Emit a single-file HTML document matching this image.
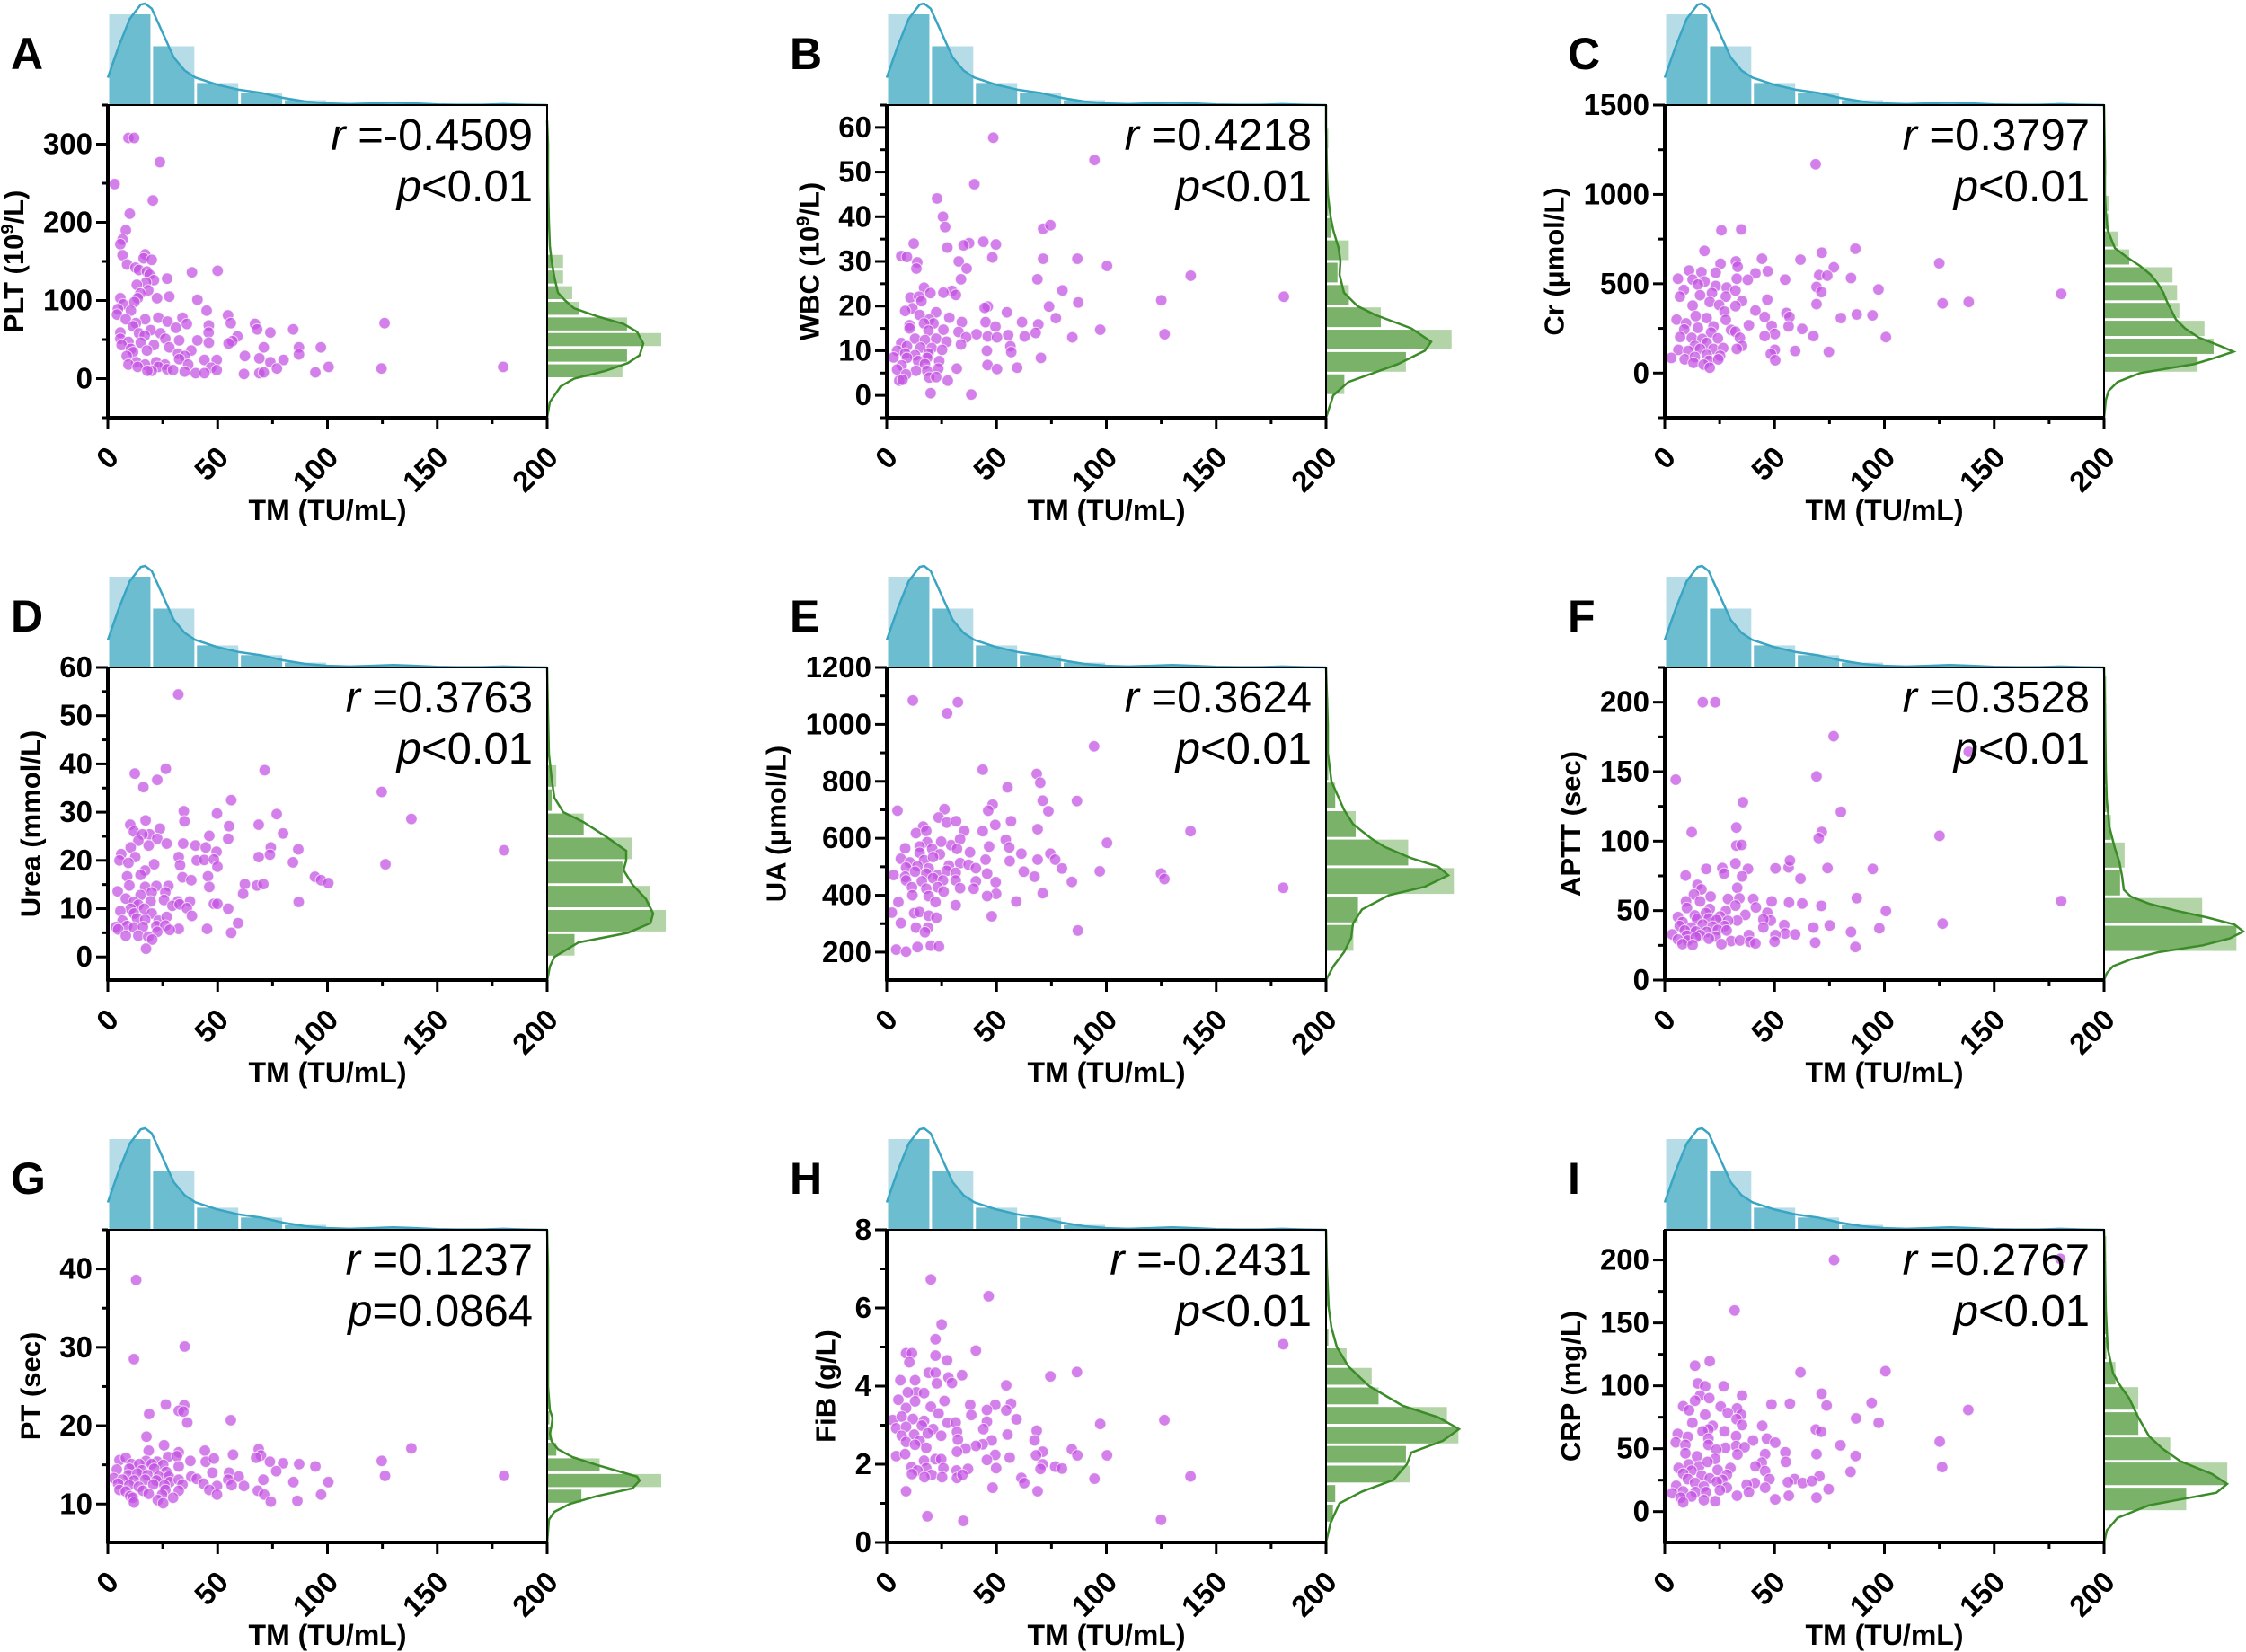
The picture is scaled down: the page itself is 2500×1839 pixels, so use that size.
<!DOCTYPE html>
<html><head><meta charset="utf-8"><title>TM correlation panels</title>
<style>html,body{margin:0;padding:0;background:#fff}svg{display:block}
text{font-family:"Liberation Sans Narrow","Liberation Sans",sans-serif}</style></head>
<body>
<svg id="fig" width="2500" height="1839" viewBox="0 0 2500 1839" xmlns="http://www.w3.org/2000/svg"></svg>
<script>
// ---------- data ----------
const panelLetters=["A","B","C","D","E","F","G","H","I"];
const yLabels=["PLT (10|9|/L)","WBC (10|9|/L)","Cr (μmol/L)","Urea (mmol/L)","UA (μmol/L)","APTT (sec)","PT (sec)","FiB (g/L)","CRP (mg/L)"];
const rTexts=["=-0.4509","=0.4218","=0.3797","=0.3763","=0.3624","=0.3528","=0.1237","=-0.2431","=0.2767"];
const pTexts=["<0.01","<0.01","<0.01","<0.01","<0.01","<0.01","=0.0864","<0.01","<0.01"];
const yMins=[-50,-5,-250,-4.8,102,0,5.1,0,-24.5];
const yMaxs=[350,65,1500,60,1200,225,45,8,224];
const yTickStart=[0,0,0,0,200,0,10,0,0];
const yTickStep=[100,10,500,10,200,50,10,2,50];
const yTickEnd=[300,60,1500,60,1200,200,40,8,200];
const xTicks=[0,50,100,150,200];
// top (TM) histogram, bins of 20 from 0
const topCounts=[74,48,18,10,4,1,1,0,1,0];
const topKdeX=[0,5,10,15,17,20,25,30,35,40,50,60,70,80,90,100,110,120,130,140,150,160,170,180,190,200];
const topKdeD=[0.27,0.58,0.85,0.99,1,0.95,0.71,0.47,0.34,0.27,0.2,0.15,0.12,0.07,0.035,0.017,0.01,0.017,0.024,0.017,0.007,0.003,0.003,0.01,0.003,0];
// right histograms
const rhStart=[0,0,0,0,200,20,10,0.5,0];
const rhBin=[20,5,100,5,100,20,2,0.5,20];
const rhCounts=[
 [33,35,50,35,14,11,7,7],
 [8,35,55,24,10,5,10,2,1,1,0,1],
 [41,48,44,33,32,30,11,6,2,2,0,1],
 [12,52,45,33,37,16,2,4],
 [12,14,56,36,13,4,1,0,1],
 [58,43,7,9,3,1,1,1,1,1],
 [15,50,23,4,2,1,1],
 [3,4,37,35,58,53,23,20,9,1,0,1,1],
 [36,54,29,15,15,5,1,1,1,1,1]];
const rkY=[
 [-50,-30,-10,0,10,20,30,45,60,70,80,90,100,110,130,150,170,200,250,300,330],
 [-5,0,3,7,10,12,15,18,20,23,27,30,33,37,40,45,50,60,65],
 [-250,-150,-100,-50,0,50,80,120,150,200,250,300,400,450,500,550,600,650,700,800,900,1000,1200,1500],
 [-5,-2,0,3,5,7,9,12,15,18,20,22,25,28,30,33,37,42,50,60],
 [102,150,200,250,300,350,400,430,470,500,530,570,600,650,700,800,900,1000,1100,1200],
 [0,5,10,15,20,25,30,35,40,45,50,55,60,65,75,85,95,110,130,150,200,225],
 [5,8,9,10,11,12,13,13.5,14,15,16,17,18,19,20,21,22,25,30,40,45],
 [0,0.5,1,1.3,1.6,2,2.3,2.6,2.9,3.2,3.5,4,4.5,5,5.5,6,7,8],
 [-25,-15,-5,5,15,22,30,40,50,60,75,90,100,110,130,160,200,224]];
const rkD=[
 [0,3,15,30,65,90,103,107,100,85,55,30,20,12,8,5,3,2,1,1,0],
 [0,8,25,80,110,117,95,55,35,20,15,16,14,8,5,2,1,0,0],
 [0,2,5,15,40,100,120,144,130,105,90,80,70,66,60,52,40,25,12,4,2,1,1,0],
 [0,3,8,35,90,115,118,110,95,85,88,88,65,40,18,8,5,2,1,0],
 [0,8,20,28,30,40,70,110,136,125,95,65,50,30,20,6,2,2,1,0],
 [0,3,10,30,60,110,140,155,145,115,80,50,30,22,20,17,12,6,3,2,1,0],
 [0,2,8,25,55,95,103,100,85,55,28,12,5,3,5,6,3,1,1,1,0],
 [0,5,15,40,75,90,95,130,148,125,85,48,25,12,6,3,1,0],
 [0,3,15,50,125,137,120,85,65,50,38,28,18,10,4,2,1,0]];
// scatter points: [TM, value, TM, value, ...]
const ptsA=[9.4,308,12,308,23.7,277,3.1,249,20.5,228,10,211,8.2,190,6.7,178,5.7,172,6.7,158,8.8,146,17,159,16.3,154,20,152,12.6,142,14.2,139,17.8,137,19,133,38.3,136,50,138,27,128,21,126,17.4,123,13.2,120,18.4,113,14.8,109,13.6,103,22.4,103,28,105,5.7,103,7,95,12.1,98,40.8,101,4.6,89,10.5,87,45,87,54.7,81,34,78,4.2,82,8.2,76,17,76,23,78,27.2,73,12.8,71,56,71,36,70,67,70,126,71,46,68,11.5,67,19.5,62,31,65,68,63,84.4,63,74,59,5.7,59,14.2,58,24,58,45.9,59,16.8,55,59,54,26.2,51,32.5,49,5.7,51,9.4,47,15,46,40.8,49,56.7,48,46,46,55,45,21,43,28,40,6.3,43,87,40,97,40,71,40,10.5,38,17.8,36,38,36,32,32,87,31,11.5,34,62.4,29,35,29,8.6,29,69,26,32.5,25,44,24,49.6,24,80,24,74,21,13,21,22,21,9.4,18,17,18,26,18,36.6,18,23,15,13.6,15,47,14,100.5,15,77,13,124.6,13,180,15,27,12,49.6,11,20,10,35,9,40,7,44,7,62,6,69,7,71,8,94.5,8,18,10,29.7,11];
const ptsB=[48.5,57.7,94.6,52.7,39.9,47.3,22.9,44.1,25.6,40,26.6,37.7,71.2,37.3,74.5,38.1,44,34.4,49.7,33.8,12.3,34,37.5,34.1,35,33.6,27.6,33.1,6.6,31.2,9.2,31,13.9,29.8,13.5,28.4,32.8,30,36.4,28.4,48.1,30.9,71.2,30.6,86.8,30.6,100.3,29,138.4,26.8,33.8,26,68.6,26,17,24.1,19.9,22.9,29.7,23.4,25.8,23,31.5,22.5,10.8,21.9,14.7,22.1,15.8,21.1,80,23.5,87.2,20.8,125,21.3,180.8,22.1,11.7,19.5,8.4,18.9,15,18,22.5,18.6,46,19.9,44.6,19.6,54.7,18.6,73.9,19.9,28.5,17.4,19.4,17,21.3,16.1,10.4,15.7,17,16.1,34.2,16.4,45,16.4,61.6,16.4,69,15.9,77,17.3,49.5,15.4,10.4,15,19,14.5,25.8,14.7,32.7,14.2,67.8,14,97.2,14.7,126.5,13.7,40.9,13.7,55.3,13.5,36.2,13,46,13.2,62.8,13.2,84.5,13,12.9,12.7,17.4,12.4,22.5,12.7,27.2,12,50.2,13,33.8,11.4,6.6,11.7,9.2,11,15.4,10.7,20.5,10.6,25.2,10.2,56.3,11,4.7,10,8.4,9.4,12.9,9,19,9.4,45.6,10,56.7,9.7,3.1,8.5,9.2,8.4,18.4,8.4,70.2,8.4,14.3,7.7,17.4,7,6.8,6.7,23.9,7.7,45.9,6.8,4.7,5.8,13.3,5.5,18.4,5.5,23.5,6,31.9,6,50.2,5.9,59.4,6.2,8.8,4.7,19.4,4,22.5,4.1,5.7,3.3,7.2,3.5,27.8,3.3,20,0.5,38.5,0.2];
const ptsC=[68.7,1169,25.8,799,34.8,804,18.1,684,71.5,674,86.8,696,44.3,640,61.8,635,125,615,32.4,625,25.4,612,33.2,595,77,592,11.1,574,16.7,565,23.2,562,46.9,570,41.3,558,70.3,548,74,545,54.8,523,84.8,532,6,528,12.7,523,18.1,512,32.8,528,37.8,522,15.1,495,23.2,487,28.2,478,69.1,482,97.3,468,8.7,465,32.2,462,71.3,453,180.5,443,6.9,428,16.1,436,21.5,448,27.8,428,35.2,403,46.7,411,126.5,390,138.4,398,69.1,386,20.5,398,12.7,378,24.8,381,32.2,375,41.3,350,27.2,344,55.4,336,56.8,314,87.4,328,94.6,323,45.5,314,5.4,299,14.1,319,19.1,308,27.8,298,80.2,308,9.7,278,38.3,268,48.7,264,56.4,261,22.2,261,15.1,253,8.9,244,30.2,241,62.6,247,32.2,231,21.1,227,50.1,219,67.7,207,100.7,201,7,202,12.3,197,17.1,191,24.2,194,34.2,197,45.5,207,19.1,169,13.7,152,35.2,152,6.2,130,10.7,124,16.1,135,22.2,135,26.6,140,32.8,135,50.1,130,59.4,124,74.7,119,3,85,9.1,77,13.7,90,19.1,102,25.2,97,48.3,107,13.1,57,20.1,69,24.4,77,50.3,72,17.7,47,20.5,30];
const ptsD=[32.1,54.4,71.4,38.7,26.4,39,12.3,38,22.5,36.7,16.2,35.2,124.7,34.2,56.2,32.5,34.6,30.2,49.7,29.7,76.9,29.6,34.9,28.1,138.2,28.6,17.2,28.3,10.2,27.4,68.7,27.4,55.2,27.1,23.7,26.6,11.9,26,19,25.4,15.8,25.4,46.2,25.1,79.8,25.6,54.8,24.5,22.5,24.5,13.9,24.1,26.8,23.5,34.3,23.5,39.9,23.1,10.4,22.7,18.6,23.1,44.6,22.7,86.7,22.3,180.4,22.1,49.5,21.8,74.2,22.7,6.1,21.3,12.5,20.7,40.5,20,43.9,20.1,48.3,20.2,32.3,20.7,68.7,20.7,73.8,21.2,84.3,19.6,5.3,20,9.4,19.5,21.1,19.2,126.4,19.2,49.9,18.7,32.9,19,17,17.9,14.9,17,34,16.5,8.8,16.7,45.6,16.7,94.3,16.6,97.1,15.9,100.4,15.3,62.4,15.1,67.9,14.8,70.8,15.1,9.8,14.8,17,14.5,22.1,14.7,27.6,14.7,38,15.9,46.2,14.5,4.5,13.6,20,13.4,26.2,13.4,8.2,12.1,14.9,12.8,61.6,13.1,11.9,11.4,19.5,11.5,25.6,11.8,31.9,11.5,37.4,11.5,48.3,11,49.9,11,86.9,11.4,13.9,10.8,29.4,10.6,32.7,10.9,10.4,10,16.6,10,36,10.1,54.8,10,5.7,9.5,11.9,9,20,9,38.3,8.5,13.3,8,17,7.7,23.1,7.5,26.8,8.3,6.7,7.5,59.3,7,3.7,6.2,8.8,6.4,11.9,6.1,16,6.2,22.1,6.4,26.2,6.5,32.3,5.8,45.2,5.8,28.2,5.6,4.7,5.7,22.5,5.2,56.2,5,8.2,4.4,13.9,4.4,18.4,4.2,20.2,3.6,17.4,1.7];
const ptsE=[11.9,1084,32.4,1078,27.5,1039,94.4,923,43.7,841,68.3,826,69.9,795,55,779,86.6,731,71,732,48.2,718,4.9,697,26.3,702,46.2,697,73.6,695,23.6,673,27.3,655,31.6,660,56.6,660,49.4,647,35.3,626,43.7,625,68.7,632,138.3,625,16.6,641,13.3,618,18,626,29.3,576,18.4,586,24.8,588,33.4,597,54.2,595,100.3,584,8.4,565,15,571,20.7,563,46.6,571,55.8,568,32,563,37.9,551,61.3,546,74.5,546,24.2,544,15,549,6.4,528,10.5,515,17,523,21.1,534,45,525,56,520,68.7,525,76.7,525,33.4,513,28.3,504,37.3,507,8.8,497,14,502,19.1,494,40.6,495,79.8,494,3.1,471,8.4,465,12.9,483,18,476,23.2,471,27.3,486,31.4,479,62.4,483,97,484,45.7,476,124.9,476,126.4,457,8.8,452,16,449,21.1,460,25.6,452,31.4,452,67.3,465,49.6,446,40.6,449,84.3,447,11.5,428,18,423,23.2,428,33.4,425,39.6,423,25.9,413,180.5,426,71,407,49.8,405,11.7,400,19.1,397,45.7,397,5.3,376,22.2,376,59,378,31.4,365,2.3,339,12.5,337,14.9,341,19.1,328,22.6,321,47.8,326,6.4,302,13.3,286,18.8,286,17.4,270,87,276,4.3,209,8.8,202,14,218,20.1,223,23.8,220];
const ptsF=[17.3,200,23,200,76.9,175.5,138.4,164.3,5,144.2,69.1,146.6,35.6,128,80.2,121,32.6,109.8,12.3,106.4,71.5,106.6,70.1,102.2,125.1,103.8,32.6,96.8,35,97.3,9.5,75.2,18.9,80,26.2,80.6,27,76.7,32.2,83.9,37.9,80,50.4,80.4,56.4,81.1,57,86,74.1,80.6,94.7,80,61.8,73,35.2,74.6,14.9,68.5,16.7,65.3,33,66.4,13.3,61.6,20.9,60.1,28.8,58.4,34,58.8,40.3,58.4,48.7,56.6,56.6,55.8,62.6,55.1,87.4,59,9.7,56.6,16.1,56.6,71.3,53.4,32.2,53.6,41.5,52.3,180.5,56.9,10.1,51.9,20.5,51.2,27.8,49.7,46.7,48.4,100.7,49.7,6,45.4,13.7,46.5,18.7,48.2,25.2,45.8,36.7,46.9,48.3,42.8,44.9,43.7,33,42.8,8.1,41.7,14.7,43.7,20.1,44.3,23.6,43.2,28.8,42.6,126.5,40.6,6.8,38.9,12.1,37.8,17.3,40,21.8,38.5,27.2,38.9,44.9,37.8,54.4,39.6,67.7,37.8,75.1,39.3,97.7,37.2,9.1,35.7,14.1,35,19.1,34.6,24.2,36.1,28.2,35.7,54.8,33.5,59.4,32.9,84.8,34.6,3.4,32.9,10.1,32,16.1,32.4,23.2,31.3,38.3,32.4,50.4,32.4,6,29.2,10.5,28.5,14.1,30.7,20.1,29.8,30.2,28.1,34.2,28.5,38.9,27.5,50,27.7,68.5,27,8.1,25.9,12.7,25.3,25.8,25.9,41.3,26.4,86.8,23.8];
const ptsG=[12.9,38.6,35,30.1,11.9,28.5,26.4,22.7,34.8,22.6,32.3,21.9,34.4,21.8,18.8,21.5,36.2,20.4,56,20.7,17.6,18.6,138.2,17.1,25.6,17.5,68.7,17,18.6,16.8,44.2,16.8,32.3,16.6,57,16.3,69.7,16.2,5.3,15.6,8.2,15.9,17.4,15.5,22.5,15.4,27.4,16,31.5,16.1,37.6,15.5,44.6,15.4,48.3,15.8,67.5,15.9,124.7,15.5,73.8,15.4,79.8,15.2,87.1,15.1,94.5,14.8,10.8,15.1,14.3,15.1,20,15.1,25.2,15,32.3,14.8,4.1,14.4,9.8,14.5,15.5,14.3,21.1,14.5,26.6,14.1,76.7,14.2,47.6,14,55.2,14,9.4,13.7,13.5,13.9,18,13.7,23.1,13.5,27.8,13.5,38,13.5,126.2,13.6,180.4,13.6,59.6,13.5,2.7,13.3,6.7,13.1,11.9,13,17,13.1,22.1,13,28.2,12.8,32.3,13.1,40.5,13.2,54.8,13.1,70.8,13.1,100.4,12.8,84.5,12.8,4.7,12.6,9.8,12.4,14.1,12.2,20.7,12.5,25.8,12.4,34,12.5,43.6,12.6,49.7,12.3,56.4,12.4,62,12.3,5.3,11.8,8.2,11.6,16,11.7,26.2,11.8,32.3,11.7,46.2,11.8,68.3,11.7,18.6,11.3,10.2,11,24.7,11.2,49.7,11.2,71.2,11.2,97.1,11.2,11.4,10.8,29.7,10.8,22.7,10.5,11.9,10.2,25.2,10.1,74.2,10.3,86.3,10.4];
const ptsH=[20.1,6.73,46.4,6.3,25,5.58,22.2,5.2,180.5,5.07,40.6,4.91,8.8,4.84,11.5,4.84,22.2,4.78,10.3,4.61,27.5,4.66,19.1,4.34,22.2,4.34,86.6,4.36,74.5,4.25,34.3,4.28,28.1,4.22,22.8,4.07,29.7,4.08,6.2,4.15,12.9,4.15,54.4,4.02,13.5,3.84,9.6,3.84,17,3.82,5.3,3.65,12.9,3.61,26.3,3.62,38,3.52,56.6,3.55,49.4,3.52,20.1,3.47,8.8,3.44,45.6,3.39,54.4,3.38,38.5,3.26,23.6,3.3,59.1,3.15,2.7,3.13,6.8,3.22,11.9,3.16,17,3.11,126.4,3.13,97.2,3.03,45.6,3.09,27.7,3.06,31.4,3.07,4.3,2.92,8.8,2.96,16,2.99,21.1,2.9,44,2.9,68.3,2.86,32,2.83,6.8,2.73,12.5,2.76,18.7,2.79,24.8,2.73,55,2.76,8.8,2.57,15,2.6,32.4,2.63,47.8,2.61,67.3,2.61,43.7,2.51,40.6,2.47,12.9,2.5,18,2.42,84.3,2.38,35.9,2.4,71,2.32,32,2.32,86.8,2.23,100.3,2.23,4.3,2.21,8.4,2.26,49.4,2.24,56,2.17,68,2.23,17,2.09,22.2,2.13,24.8,2.13,45.6,2.11,11.3,1.93,49.8,1.9,71,2,76.7,1.94,79.8,1.89,70,1.88,25.8,1.9,18,1.9,14,1.84,31.8,1.84,37,1.88,11.5,1.75,20.5,1.73,17.2,1.67,25.2,1.67,32,1.65,34.5,1.73,61.3,1.65,94.6,1.63,138.3,1.69,62.6,1.52,48.2,1.4,68.7,1.31,8.8,1.31,18.5,0.67,34.9,0.55,124.9,0.58];
const ptsI=[77.1,200,180.1,200.9,31.8,159.9,20.5,119.5,13.8,116,100.5,111.6,61.8,110.7,15.1,101.9,18.4,99.6,26.8,99.6,71.4,93.7,35.2,92.2,16.1,92.2,20.3,90.2,13.8,88.1,94.2,86.4,57,85.8,48.6,85.2,73.7,84.3,8.4,83.7,25.5,83.5,11.1,80.5,138.2,80.8,32.9,82,28.7,78.5,18.4,77,34.8,77,87.1,74.1,32.7,73.5,12.6,70.6,97.4,70.6,35.2,68.8,44.4,68.2,21.8,68.2,19.9,65.3,68.8,65.3,71.2,63.5,27.2,63.8,17.2,63.8,5.9,61.8,32.5,60,19.9,58,10.5,59.4,46.5,58,40.2,56.5,125.2,55.6,5,55,50.3,54.8,9.4,53,19.9,53,32.5,52.1,36.4,51.2,80,52.7,27.6,50.7,23.5,49.2,54.9,47.1,9.4,46.3,45.7,45.7,69.1,45.7,86.9,44.2,33.1,45.4,14.7,43.9,23,41.9,55.1,39.5,10.9,37.5,15.7,36,19.5,39.5,44.2,38.9,41.3,36,126.3,35.4,6.3,34.6,29.9,34.6,12.2,32.5,24.1,33.1,45.7,32.2,84.6,31.6,8.4,30.2,16.8,28.7,28.3,29.3,70.4,28.1,59.1,25.8,10.5,25.8,20.5,26.4,26.2,25.2,47.7,25.8,56.1,23.4,62.8,22.8,67,24.3,13.8,22.8,23.7,23.7,41,22.8,5.2,20.5,17.8,19.9,28.3,19,37.3,21.4,74.6,17.9,3.4,14.6,8.4,16.1,14,15.5,18.8,15.5,25.1,17,38.3,15.5,45.7,19,7.3,11.1,12.2,12,32.9,12.6,56.5,12.6,69.1,11.1,50.3,9.7,8.4,7.3,17.8,9.1,23,8.2];
const allPts=[ptsA,ptsB,ptsC,ptsD,ptsE,ptsF,ptsG,ptsH,ptsI];

// ---------- drawing ----------
const NS="http://www.w3.org/2000/svg";
const svg=document.getElementById("fig");
const colX=[120,987,1853], rowY=[117,743,1369], W=489, H=348;
const TOP_H=113, TOP_PX_PER_COUNT=101/74, RH_PX_PER_COUNT=2.54, RK_SCALE=1;
function el(tag,attrs,parent){const e=document.createElementNS(NS,tag);for(const k in attrs)e.setAttribute(k,attrs[k]);(parent||svg).appendChild(e);return e;}

for(let i=0;i<9;i++){
  const x0=colX[i%3], y0=rowY[Math.floor(i/3)];
  const d0=yMins[i], d1=yMaxs[i];
  const xs=v=>x0+v/200*W;
  const ys=v=>y0+H-(v-d0)/(d1-d0)*H;
  const g=el("g",{});
  
  

  // ---- top histogram ----
  const tg=el("g",{},g);
  
  
  let kp="M"+xs(topKdeX[0])+","+y0;
  let kl="";
  topKdeX.forEach((v,k)=>{const px=xs(v),py=y0-topKdeD[k]*TOP_H;kp+=" L"+px+","+py;kl+=(k?" L":"M")+px+","+py;});
  kp+=" L"+xs(200)+","+y0+" Z";
  const cid="tclip"+i;
  const cp=el("clipPath",{id:cid},tg);el("path",{d:kp},cp);
  const drawTop=(fill,clip)=>{topCounts.forEach((c,k)=>{if(!c)return;const h=c*TOP_PX_PER_COUNT;
    const r=el("rect",{x:xs(k*20)+1.5,y:y0-h,width:xs(20)-xs(0)-3,height:h,fill:fill},tg);
    if(clip)r.setAttribute("clip-path","url(#"+cid+")");
    
    });};
  drawTop("#b5dce7",false);drawTop("#6dbdd0",true);
  const tl=el("path",{d:kl,fill:"none",stroke:"#3aa5c2","stroke-width":2.5},tg);
  
  

  // ---- right histogram ----
  const rg=el("g",{},g);
  
  
  const xr=x0+W;
  let rp="M"+xr+","+ys(rkY[i][0]), rl="";
  rkY[i].forEach((v,k)=>{const px=xr+rkD[i][k]*RK_SCALE,py=ys(v);rp+=" L"+px+","+py;rl+=(k?" L":"M")+px+","+py;});
  rp+=" L"+xr+","+ys(rkY[i][rkY[i].length-1])+" Z";
  const rcid="rclip"+i;
  const rcp=el("clipPath",{id:rcid},rg);el("path",{d:rp},rcp);
  const drawRight=(fill,clip)=>{rhCounts[i].forEach((c,k)=>{if(!c)return;
    const lo=rhStart[i]+k*rhBin[i],hi=lo+rhBin[i];
    const yA=Math.max(ys(hi),y0),yB=Math.min(ys(lo),y0+H);if(yB<=yA)return;
    const r=el("rect",{x:xr,y:yA+1.5,width:c*RH_PX_PER_COUNT,height:Math.max(0,yB-yA-3),fill:fill},rg);
    if(clip)r.setAttribute("clip-path","url(#"+rcid+")");
    
    });};
  drawRight("#b2d4a6",false);drawRight("#7bb26a",true);
  const rl2=el("path",{d:rl,fill:"none",stroke:"#3b8c29","stroke-width":2.5},rg);
  
  

  // ---- scatter ----
  const sg=el("g",{},g);
  
  
  const pts=allPts[i];
  for(let k=0;k<pts.length;k+=2){
    const c=el("circle",{cx:xs(pts[k]),cy:ys(pts[k+1]),r:6.3,fill:"#c24fe2","fill-opacity":0.72,stroke:"#fff","stroke-width":1,"stroke-opacity":0.7},sg);
    
    
  }

  // ---- frame ----
  const fr=el("rect",{x:x0,y:y0,width:W,height:H,fill:"none",stroke:"#000","stroke-width":2},g);
  
  
  const ya=el("line",{x1:x0,y1:y0,x2:x0,y2:y0+H+1.5,stroke:"#000","stroke-width":4},g);
  
  
  const xa=el("line",{x1:x0-1.5,y1:y0+H,x2:x0+W,y2:y0+H,stroke:"#000","stroke-width":4},g);
  
  

  // y ticks
  const st=yTickStep[i];
  let maxLabelW=0;
  for(let v=yTickStart[i]-st/2;v<=d1+1e-9;v+=st/2){
    if(v<d0-1e-9)continue;
    const major=Math.abs(((v-yTickStart[i])/st)-Math.round((v-yTickStart[i])/st))<1e-6 && v<=yTickEnd[i]+1e-9;
    const y=ys(v);
    el("line",{x1:x0-(major?13:7),y1:y,x2:x0,y2:y,stroke:"#000","stroke-width":3},g);
    if(major){
      const t=el("text",{x:x0-17,y:y+11,"text-anchor":"end","font-size":33,"font-weight":"bold"},g);
      t.textContent=String(Math.round(v*100)/100);
      
      
      try{maxLabelW=Math.max(maxLabelW,t.getComputedTextLength());}catch(e){}
    }
  }
  // x ticks
  for(let v=0;v<=200;v+=25){
    const major=v%50===0;const x=xs(v);
    el("line",{x1:x,y1:y0+H,x2:x,y2:y0+H+(major?13:7),stroke:"#000","stroke-width":3},g);
  }
  xTicks.forEach(v=>{const x=xs(v);const ty=y0+H+46;
    const t=el("text",{x:x+14,y:ty,"text-anchor":"end","font-size":33,"font-weight":"bold",transform:"rotate(-45 "+(x+14)+" "+ty+")"},g);
    t.textContent=String(v);
    
    });
  // axis titles
  const xt=el("text",{x:x0+W/2,y:y0+H+114,"text-anchor":"middle","font-size":32,"font-weight":"bold","font-family":"Liberation Sans, sans-serif"},g);
  xt.textContent="TM (TU/mL)";
  
  
  const yx=x0-17-(maxLabelW||55)-22, yy=y0+H/2;
  const yt=el("text",{x:yx,y:yy,"text-anchor":"middle","font-size":31,"font-weight":"bold","font-family":"Liberation Sans, sans-serif",transform:"rotate(-90 "+yx+" "+yy+")"},g);
  const parts=yLabels[i].split("|");
  parts.forEach((p,k)=>{const s=el("tspan",{},yt);if(k===1){s.setAttribute("baseline-shift","super");s.setAttribute("font-size","20");}s.textContent=p;});
  
  
  // stats
  const rt=el("text",{x:x0+W-16,y:y0+50,"text-anchor":"end","font-size":49},g);
  const ri=el("tspan",{"font-style":"italic"},rt);ri.textContent="r";
  const rv=el("tspan",{},rt);rv.textContent=" "+rTexts[i];
  
  
  const pt=el("text",{x:x0+W-16,y:y0+107,"text-anchor":"end","font-size":49},g);
  const pi=el("tspan",{"font-style":"italic"},pt);pi.textContent="p";
  const pv=el("tspan",{},pt);pv.textContent=pTexts[i];
  
  
  // panel letter
  const lt=el("text",{x:x0-108,y:y0-40,"font-size":50,"font-weight":"bold","font-family":"Liberation Sans, sans-serif"},g);
  lt.textContent=panelLetters[i];
  
  
}
</script>
</body></html>
